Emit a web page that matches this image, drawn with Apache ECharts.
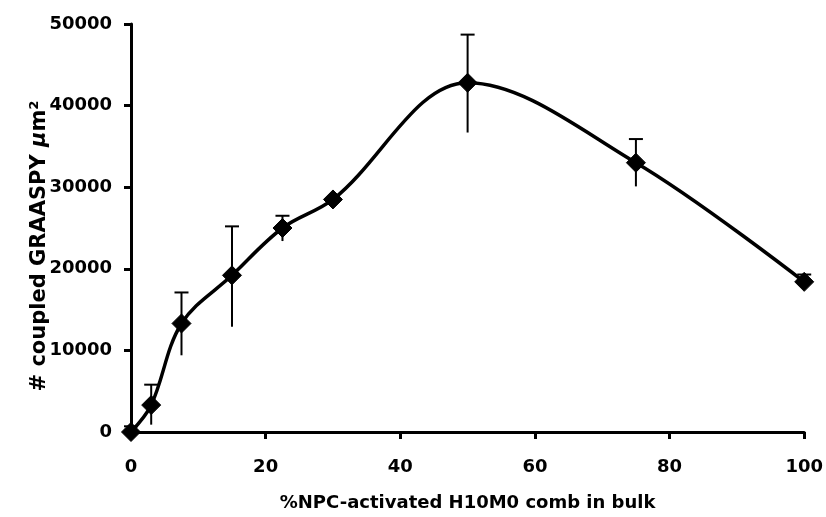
<!DOCTYPE html>
<html>
<head>
<meta charset="utf-8">
<script src="https://cdn.jsdelivr.net/npm/echarts@6/dist/echarts.min.js"></script>
<style>
  html, body { margin: 0; padding: 0; background: #fff; }
  #chart { width: 826px; height: 517px; }
</style>
</head>
<body>
<div id="chart"></div>
<script>
// % NPC-activated comb in bulk
const percentNPC = [0, 3, 7.5, 15, 22.5, 30, 50, 75, 100];
// mean number of coupled GRAASPY per square micron
const coupledMean = [0, 3300, 13300, 19200, 25000, 28500, 42800, 33000, 18400];
// upper and lower ends of the error bars
const errHigh = [700, 5800, 17100, 25200, 26500, 28500, 48700, 35900, 19300];
const errLow = [0, 900, 9400, 12900, 23400, 28500, 36700, 30100, 18400];
const xTicks = [0, 20, 40, 60, 80, 100];
const yTicks = [0, 10000, 20000, 30000, 40000, 50000];

const chart = echarts.init(document.getElementById('chart'));
const font = 'DejaVu Sans, Liberation Sans, sans-serif';

const errData = percentNPC.map((x, i) => [x, errLow[i], errHigh[i]]);

chart.setOption({
  animation: false,
  backgroundColor: '#fff',
  grid: { left: 131, right: 20, top: 24, bottom: 84 },
  xAxis: {
    type: 'value',
    min: xTicks[0],
    max: xTicks[xTicks.length - 1],
    interval: 20,
    name: '%NPC-activated H10M0 comb in bulk',
    nameLocation: 'middle',
    nameGap: 62,
    nameMoveOverlap: false,
    nameTextStyle: { fontFamily: font, fontWeight: 'bold', fontSize: 18, color: '#000' },
    axisLine: { lineStyle: { color: '#000', width: 3 } },
    axisTick: { show: true, length: 7, lineStyle: { color: '#000', width: 3 } },
    axisLabel: { fontFamily: font, fontWeight: 'bold', fontSize: 18, color: '#000', margin: 26 },
    splitLine: { show: false }
  },
  yAxis: {
    type: 'value',
    min: yTicks[0],
    max: yTicks[yTicks.length - 1],
    interval: 10000,
    name: '{a|# coupled GRAASPY }{u|μ}{a|m²}',
    nameLocation: 'middle',
    nameGap: 81,
    nameMoveOverlap: false,
    nameTextStyle: {
      fontFamily: font, fontWeight: 'bold', fontSize: 21, color: '#000',
      padding: [0, 36, 0, 0],
      rich: {
        a: { fontFamily: font, fontWeight: 'bold', fontSize: 21, color: '#000' },
        u: { fontFamily: font, fontWeight: 'bold', fontStyle: 'italic', fontSize: 21, color: '#000' }
      }
    },
    axisLine: { show: true, lineStyle: { color: '#000', width: 3 } },
    axisTick: { show: true, length: 7, lineStyle: { color: '#000', width: 3 } },
    axisLabel: {
      fontFamily: font, fontWeight: 'bold', fontSize: 18, color: '#000', margin: 19,
      formatter: function (v) { return String(v); }
    },
    splitLine: { show: false }
  },
  series: [
    {
      type: 'custom',
      name: 'error',
      data: errData,
      z: 1,
      renderItem: function (params, api) {
        const x = api.value(0);
        const lo = api.coord([x, api.value(1)]);
        const hi = api.coord([x, api.value(2)]);
        const capW = 7;
        return {
          type: 'group',
          children: [
            { type: 'line', shape: { x1: lo[0], y1: lo[1], x2: hi[0], y2: hi[1] },
              style: { stroke: '#000', lineWidth: 2 } },
            { type: 'line', shape: { x1: hi[0] - capW, y1: hi[1], x2: hi[0] + capW, y2: hi[1] },
              style: { stroke: '#000', lineWidth: 2 } }
          ]
        };
      }
    },
    {
      type: 'line',
      name: 'mean',
      data: percentNPC.map((x, i) => [x, coupledMean[i]]),
      smooth: 0.35,
      z: 2,
      symbol: 'diamond',
      symbolSize: 19,
      showAllSymbol: true,
      clip: false,
      lineStyle: { color: '#000', width: 3.5 },
      itemStyle: { color: '#000', borderColor: '#000' }
    }
  ]
});
</script>
</body>
</html>
